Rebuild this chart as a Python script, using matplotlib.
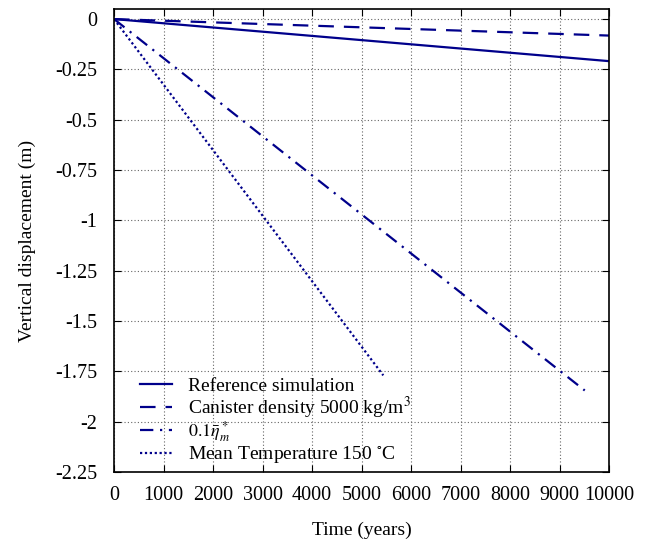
import numpy as np
import matplotlib.pyplot as plt
from matplotlib.legend import Legend
from matplotlib.ticker import FuncFormatter, MultipleLocator

# Data (time in years, displacement in m)
t_ref = [0, 10000]
d_ref = [0, -0.209]

t_dens = [0, 10000]
d_dens = [0, -0.082]

t_visc = [0, 9510]
d_visc = [0, -1.845]

t_temp = [0, 5440]
d_temp = [0, -1.77]

labels = ['Reference simulation',
          r'Canister density 5000 kg/m$^3$',
          r'$0.1\bar{\eta}_m^*$',
          r'Mean Temperature 150 $^{\circ}$C']

plt.rcParams['font.family'] = ['Liberation Serif', 'DejaVu Serif']
plt.rcParams['mathtext.fontset'] = 'stix'
plt.rcParams['axes.unicode_minus'] = False

fig = plt.figure(figsize=(6.46, 5.4), dpi=100)
ax = fig.add_axes([114 / 646, 1 - 472 / 540, (609 - 114) / 646, (472 - 9) / 540])

color = '#00008b'
lw = 1.6
lines = []
lines += ax.plot(t_ref, d_ref, color=color, lw=lw, ls='-')
lines += ax.plot(t_dens, d_dens, color=color, lw=lw, ls=(0, (7, 4.5)))
lines += ax.plot(t_visc, d_visc, color=color, lw=lw, ls=(0, (6, 3, 1, 3)))
lines += ax.plot(t_temp, d_temp, color=color, lw=lw, ls=(0, (1, 1.2)))

ax.set_xlim(0, 10000)
ax.set_ylim(-2.25, 0.05)
ax.xaxis.set_major_locator(MultipleLocator(1000))
ax.yaxis.set_major_locator(MultipleLocator(0.25))
ax.yaxis.set_major_formatter(FuncFormatter(lambda v, p: '%g' % round(v, 2)))
ax.xaxis.set_major_formatter(FuncFormatter(lambda v, p: '%d' % v))

ax.tick_params(direction='in', top=True, right=True, labelsize=14.5, length=5)
ax.tick_params(axis='x', pad=10)
ax.tick_params(axis='y', pad=12)
ax.grid(True, color='#666666', ls=(0, (1, 2)), lw=0.8)
for s in ax.spines.values():
    s.set_linewidth(1.2)

ax.set_xlabel('Time (years)', fontsize=14, labelpad=12)
ax.set_ylabel('Vertical displacement (m)', fontsize=14, labelpad=14)

# gnuplot-style key: evenly spaced rows, one small legend per entry
key_rows = [0.186, 0.138, 0.087, 0.037]
key_sizes = [14, 14, 13, 14]
for line, label, yrow, fs in zip(lines, labels, key_rows, key_sizes):
    leg = Legend(ax, [line], [label], loc='center left', bbox_to_anchor=(0.053, yrow),
                 frameon=False, fontsize=fs, handlelength=1.65 * 14 / fs,
                 handletextpad=0.8 * 14 / fs, borderaxespad=0, borderpad=0)
    ax.add_artist(leg)

fig.savefig('out.png', dpi=100)
